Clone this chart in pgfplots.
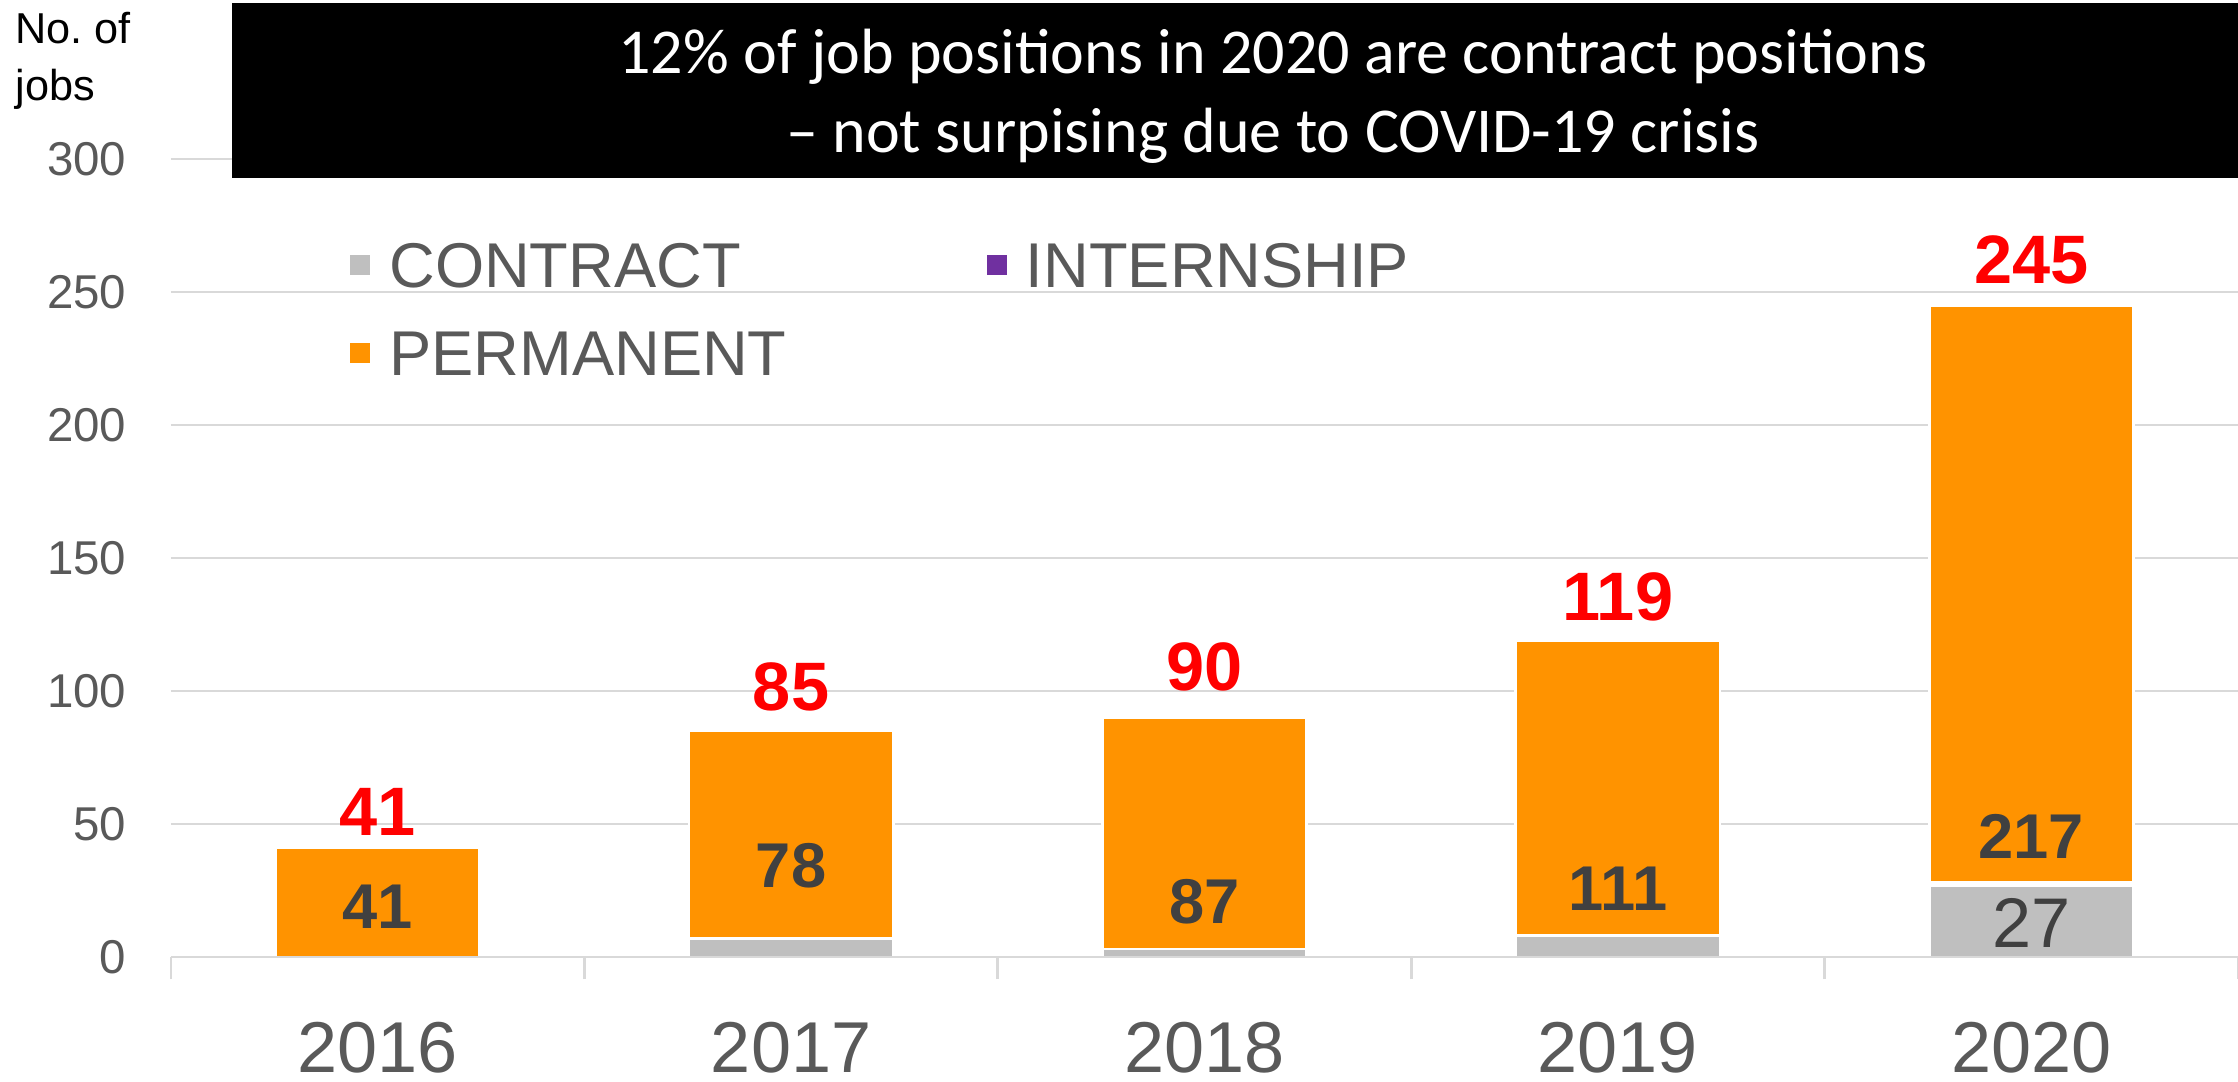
\documentclass[border=0pt]{standalone}
\usepackage{fontspec}
\setmainfont{Liberation Sans}
\newfontfamily\carlito{Carlito}
\usepackage{pgfplots}
\usepackage{pgfplotstable}
\pgfplotsset{compat=1.18}

\definecolor{permorange}{RGB}{255,147,0}
\definecolor{contractgray}{RGB}{191,191,191}
\definecolor{internpurple}{RGB}{112,48,160}
\definecolor{labelgray}{RGB}{89,89,89}
\definecolor{gridgray}{RGB}{217,217,217}
\definecolor{darklabel}{RGB}{64,64,64}

% jobs per year, by type
\pgfplotstableread{
x contract intern perm
0 0 0 41
1 7 0 78
2 3 0 87
3 8 0 111
4 27 1 217
}\jobs

% where the labels sit (data units)
\pgfplotstableread{
x permy perm totaly total
0 18.8 41 54.5 41
1 34.2 78 101.5 85
2 20.7 87 109 90
3 25.6 111 135.3 119
4 45.5 217 262 245
}\labelpos

\pgfplotstableread{
x y lab
4 12.8 27
}\contractlab

\begin{document}
\begin{tikzpicture}
\useasboundingbox (-1.71,-1.24) rectangle (20.67,9.57);
\pgfplotsset{
  base/.style={
    scale only axis, width=20.67cm, height=7.98cm,
    xmin=-0.5, xmax=4.5, ymin=0, ymax=300,
    at={(0,0)}, anchor=south west,
  },
}

\begin{axis}[base,
  ybar stacked, bar width=0.494,
  hide x axis,
  axis y line*=left,
  y axis line style={draw=none},
  ytick={0,50,...,300},
  ytick style={draw=none},
  ymajorgrids, grid style={gridgray, line width=0.8pt},
  yticklabel style={font=\fontsize{13.5}{16}\selectfont, text=labelgray,
    anchor=east, inner sep=0pt, xshift=-0.44cm},
  /pgf/number format/assume math mode=true,
  legend cell align=left,
  legend columns=2,
  legend style={at={(0.0866,0.896)}, anchor=north west, draw=none, fill=none,
    inner sep=0pt, outer sep=0pt, font=\fontsize{18}{18}\selectfont, text=labelgray,
    row sep=0.425cm,
    nodes={inner sep=0pt, text height=0.455cm, text depth=0pt},
    /tikz/every even column/.append style={column sep=2.0cm}},
  legend image code/.code={
    \path[#1,draw=none] (0cm,-0.10cm) rectangle (0.2cm,0.10cm);
    \path (0.38cm,0cm);},
]
\addplot[fill=contractgray, draw=white, line width=0.8pt] table[x=x,y=contract]{\jobs};
\addlegendentry{CONTRACT}
\addplot[fill=internpurple, draw=white, line width=0.8pt] table[x=x,y=intern]{\jobs};
\addlegendentry{INTERNSHIP}
\addplot[fill=permorange, draw=white, line width=0.8pt] table[x=x,y=perm]{\jobs};
\addlegendentry{PERMANENT}
\end{axis}

\begin{axis}[base,
  hide y axis,
  axis x line*=bottom,
  x axis line style={draw=gridgray, line width=0.8pt},
  xtick={0,1,2,3,4},
  xticklabels={2016,2017,2018,2019,2020},
  minor xtick={-0.5,0.5,1.5,2.5,3.5,4.5},
  xtick align=outside,
  major tick length=0pt,
  minor tick length=0.22cm,
  minor x tick style={draw=gridgray, line width=0.8pt},
  xticklabel style={font=\fontsize{20.5}{24}\selectfont, text=labelgray,
    anchor=base, inner sep=0pt, yshift=-1.15cm},
  clip=false,
]
\addplot[only marks, mark=none, nodes near coords, point meta=explicit symbolic,
  nodes near coords style={anchor=center, inner sep=0pt,
    font=\bfseries\fontsize{18}{18}\selectfont, text=darklabel}]
  table[x=x, y=permy, meta=perm]{\labelpos};
\addplot[only marks, mark=none, nodes near coords, point meta=explicit symbolic,
  nodes near coords style={anchor=center, inner sep=0pt,
    font=\bfseries\fontsize{19.5}{20}\selectfont, text=red}]
  table[x=x, y=totaly, meta=total]{\labelpos};
\addplot[only marks, mark=none, nodes near coords, point meta=explicit symbolic,
  nodes near coords style={anchor=center, inner sep=0pt,
    font=\fontsize{20}{20}\selectfont, text=darklabel}]
  table[x=x, y=y, meta=lab]{\contractlab};
\end{axis}

% title box
\fill[black] (0.61,7.79) rectangle (20.67,9.54);
\node[anchor=base, text=white, inner sep=0pt, font=\carlito\fontsize{18.2}{20}\selectfont]
  at (11.02,8.84) {12\% of job positions in 2020 are contract positions};
\node[anchor=base, text=white, inner sep=0pt, font=\carlito\fontsize{18.2}{20}\selectfont]
  at (11.02,8.05) {– not surpising due to COVID-19 crisis};

\node[anchor=base west, inner sep=0pt, font=\fontsize{12.3}{14}\selectfont] at (-1.56,9.14) {No.\ of};
\node[anchor=base west, inner sep=0pt, font=\fontsize{12.3}{14}\selectfont] at (-1.56,8.57) {jobs};
\end{tikzpicture}
\end{document}
